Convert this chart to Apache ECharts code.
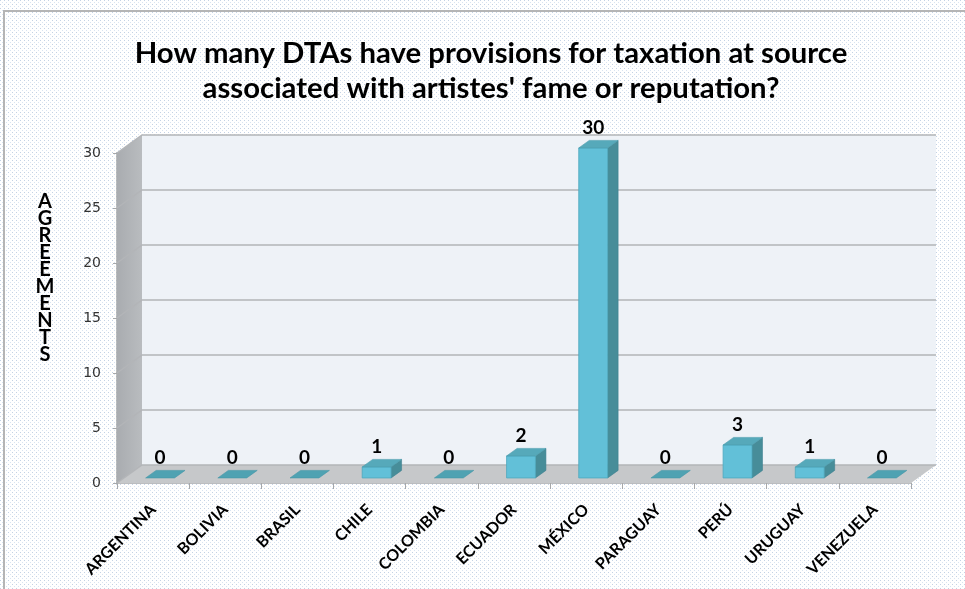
<!DOCTYPE html>
<html>
<head>
<meta charset="utf-8">
<script src="https://cdn.jsdelivr.net/npm/echarts@6/dist/echarts.min.js"></script>
<style>
  html, body { margin: 0; padding: 0; background: #ffffff; }
  #chart { width: 965px; height: 589px; }
</style>
</head>
<body>
<div id="chart"></div>
<script>
// ---- data ----
const titleLines = [
  "How many DTAs have provisions for taxation at source",
  "associated with artistes' fame or reputation?"
];
const axisTitle = "AGREEMENTS";
const countries = ["ARGENTINA", "BOLIVIA", "BRASIL", "CHILE", "COLOMBIA", "ECUADOR",
                   "MÉXICO", "PARAGUAY", "PERÚ", "URUGUAY", "VENEZUELA"];
const agreements = [0, 0, 0, 1, 0, 2, 30, 0, 3, 1, 0];
const yTicks = [0, 5, 10, 15, 20, 25, 30];

// ---- 3D projection of the plot box ----
const DX = 25;      // horizontal shift from front plane to back wall
const DY = -18;     // vertical shift from front plane to back wall
const BAR_Z0 = 0.28;   // depth at which the bar's front face sits
const BAR_DZ = 0.42;   // bar depth as a fraction of the box depth
const BAR_W = 0.40;    // bar width as a fraction of the category band

const FONT = "Lato, 'Open Sans', sans-serif";

// dotted chart-area fill
const tile = document.createElement('canvas');
tile.width = 4; tile.height = 4;
const tg = tile.getContext('2d');
tg.fillStyle = '#ffffff'; tg.fillRect(0, 0, 4, 4);
tg.fillStyle = '#c4d2e4'; tg.fillRect(0, 0, 1, 1);
tg.fillStyle = '#d9e4f1'; tg.fillRect(2, 2, 1, 1);

function renderWalls(params, api) {
  const n = countries.length;
  const bw = api.size([1, 0])[0];
  const xl = api.coord([0, 0])[0] - bw / 2;
  const xr = api.coord([n - 1, 0])[0] + bw / 2;
  const yb = api.coord([0, yTicks[0]])[1];
  const yt = api.coord([0, yTicks[yTicks.length - 1]])[1];
  const children = [
    { type: 'polygon',
      shape: { points: [[xl + DX, yt + DY], [xr + DX, yt + DY], [xr + DX, yb + DY], [xl + DX, yb + DY]] },
      style: { fill: '#eef2f7' } },
    { type: 'polygon',
      shape: { points: [[xl, yt], [xl + DX, yt + DY], [xl + DX, yb + DY], [xl, yb]] },
      style: { fill: new echarts.graphic.LinearGradient(0, 0, 1, 0, [
        { offset: 0, color: '#a9acb0' }, { offset: 1, color: '#b9bcbf' }]) } },
    { type: 'polygon',
      shape: { points: [[xl, yb], [xr, yb], [xr + DX, yb + DY], [xl + DX, yb + DY]] },
      style: { fill: '#c6c8ca' } }
  ];
  yTicks.forEach(function (v) {
    const y = api.coord([0, v])[1];
    children.push({
      type: 'polyline',
      shape: { points: [[xl, y], [xl + DX, y + DY], [xr + DX, y + DY]] },
      style: { stroke: '#b3b5b8', lineWidth: 1.5, fill: null }
    });
  });
  return { type: 'group', children: children };
}

function renderBar(params, api) {
  const ci = api.value(0);
  const v = api.value(1);
  const bw = api.size([1, 0])[0];
  const base = api.coord([ci, 0]);
  const top = api.coord([ci, v]);
  const w = bw * BAR_W;
  const x0 = base[0] - w / 2 + DX * BAR_Z0;
  const x1 = x0 + w;
  const by = base[1] + DY * BAR_Z0;
  const ty = top[1] + DY * BAR_Z0;
  const ox = DX * BAR_DZ;
  const oy = DY * BAR_DZ;
  const children = [];
  if (v > 0) {
    children.push({ type: 'polygon',
      shape: { points: [[x1, ty], [x1 + ox, ty + oy], [x1 + ox, by + oy], [x1, by]] },
      style: { fill: '#478d99', stroke: '#3f8290', lineWidth: 0.6 } });
    children.push({ type: 'polygon',
      shape: { points: [[x0, ty], [x1, ty], [x1, by], [x0, by]] },
      style: { fill: '#62c0d8', stroke: '#4ea8be', lineWidth: 0.8 } });
    children.push({ type: 'polygon',
      shape: { points: [[x0, ty], [x1, ty], [x1 + ox, ty + oy], [x0 + ox, ty + oy]] },
      style: { fill: '#56a9ba', stroke: '#4c9cad', lineWidth: 0.6 } });
  } else {
    children.push({ type: 'polygon',
      shape: { points: [[x0, by], [x1, by], [x1 + ox, by + oy], [x0 + ox, by + oy]] },
      style: { fill: '#4fa2b2', stroke: '#4597a8', lineWidth: 0.6 } });
  }
  children.push({ type: 'text',
    x: (x0 + x1) / 2, y: ty + oy - 3,
    style: { text: String(v), fontSize: 19, fontWeight: 'bold', fontFamily: FONT,
             fill: '#000000', align: 'center', verticalAlign: 'bottom' } });
  return { type: 'group', children: children };
}

const chart = echarts.init(document.getElementById('chart'), null, { renderer: 'canvas' });
chart.setOption({
  animation: false,
  backgroundColor: '#ffffff',
  graphic: [
    { type: 'rect', z: -10, silent: true,
      shape: { x: 0, y: 0, width: 965, height: 589 },
      style: { fill: { image: tile, repeat: 'repeat' } } },
    { type: 'rect', z: -9, silent: true,
      shape: { x: 4, y: 11, width: 1000, height: 620 },
      style: { fill: null, stroke: '#b5b5b5', lineWidth: 2 } },
    { type: 'text', z: 5, x: 45, y: 193, silent: true,
      style: { text: axisTitle.split('').join('\n'), fontSize: 20, fontWeight: 'bold',
               fontFamily: FONT, fill: '#000000', lineHeight: 17,
               align: 'center', verticalAlign: 'top' } }
  ],
  title: {
    text: titleLines.join('\n'),
    left: 486, top: 31, textAlign: 'center',
    textStyle: { fontSize: 29.3, fontWeight: 'bold', fontFamily: FONT, color: '#000000', lineHeight: 35 }
  },
  grid: { left: 117, right: 54, top: 153, bottom: 106, containLabel: false },
  xAxis: {
    type: 'category',
    data: countries,
    boundaryGap: true,
    axisLine: { show: true, lineStyle: { color: '#a6a8aa', width: 1.5 } },
    axisTick: { show: true, length: 6, lineStyle: { color: '#a6a8aa' } },
    axisLabel: { interval: 0, rotate: 45, margin: 24, fontSize: 16, fontWeight: 'bold',
                 fontFamily: FONT, color: '#000000' },
    splitLine: { show: false }
  },
  yAxis: {
    type: 'value',
    min: yTicks[0], max: yTicks[yTicks.length - 1], interval: yTicks[1] - yTicks[0],
    axisLine: { show: true, lineStyle: { color: '#a6a8aa', width: 1.5 } },
    axisTick: { show: true, length: 4, lineStyle: { color: '#a6a8aa' } },
    axisLabel: { margin: 16, fontSize: 14, fontFamily: "'DejaVu Sans', sans-serif", color: '#333333' },
    splitLine: { show: false }
  },
  series: [
    { type: 'custom', name: 'walls', renderItem: renderWalls, data: [[0, 0]], z: 1, silent: true },
    { type: 'custom', name: 'agreements', renderItem: renderBar, z: 3,
      data: agreements.map(function (v, i) { return [i, v]; }) }
  ]
});
</script>
</body>
</html>
